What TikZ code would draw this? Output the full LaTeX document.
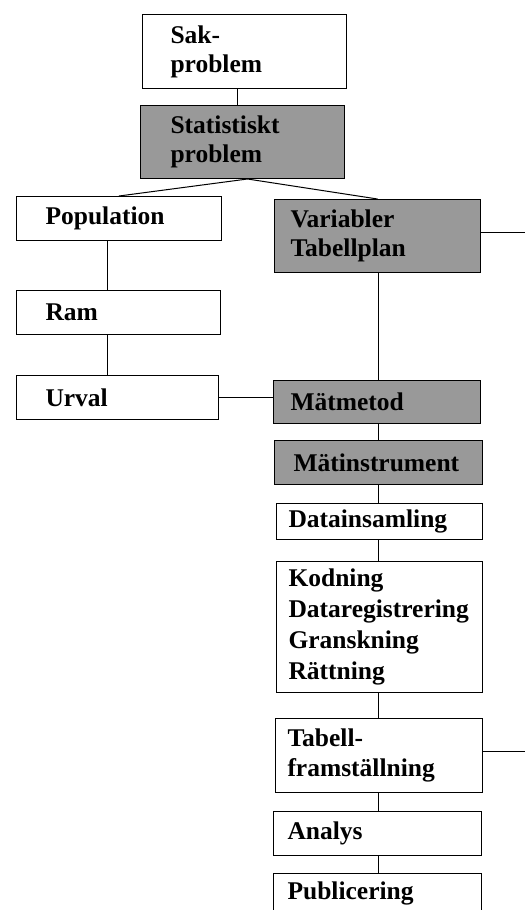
\documentclass[tikz,border=0pt]{standalone}
\usepackage{fontspec}
\setmainfont{Liberation Serif}
\usepackage{xcolor}

\begin{document}
\begin{tikzpicture}[x=1pt, y=1pt, line width=1pt,
  box/.style={draw, anchor=north west, align=left, inner ysep=0pt, font=\bfseries\fontsize{25.5}{29}\selectfont},
  plainbox/.style={box, fill=white},
  greybox/.style={box, fill=black!40}]
\useasboundingbox (0,0) rectangle (525,-910);
\clip (0,0) rectangle (525,-910);
\coordinate (topspine) at (237,0); \coordinate (lspine) at (107,0);
\coordinate (rspine) at (378,0);   \coordinate (redge) at (525,0);
% left column and top
\node[plainbox, minimum width=204pt, text width=148pt, inner xsep=28pt, minimum height=74pt] (sak) at (142,-14) {Sak-\\problem};
\node[greybox, minimum width=204pt, text width=144pt, inner xsep=30pt, minimum height=73pt] (stat) at (140,-105) {Statistiskt\\problem};
\node[plainbox, minimum width=205pt, text width=147pt, inner xsep=29pt, minimum height=44pt] (pop) at (16,-196) {Population};
\node[plainbox, minimum width=204pt, text width=146pt, inner xsep=29pt, minimum height=44pt] (ram) at (16,-290) {Ram};
\node[plainbox, minimum width=202pt, text width=144pt, inner xsep=29pt, minimum height=44pt] (urval) at (16,-375) {Urval};
% right column
\node[greybox, minimum width=206pt, text width=174pt, inner xsep=16pt, minimum height=73pt] (var) at (274,-199) {Variabler\\Tabellplan};
\node[greybox, minimum width=207pt, text width=173pt, inner xsep=17pt, minimum height=43pt] (matmet) at (273,-380) {Mätmetod};
\node[greybox, minimum width=208pt, text width=170pt, inner xsep=19pt, minimum height=44pt] (matins) at (274,-440) {Mätinstrument};
\node[plainbox, minimum width=206pt, text width=182pt, inner xsep=12pt, minimum height=36pt] (datains) at (276,-503) {Datainsamling};
\node[plainbox, minimum width=206pt, text width=182pt, inner xsep=12pt, minimum height=131pt, font=\bfseries\fontsize{25.5}{31}\selectfont] (kod) at (276,-561) {Kodning\\Dataregistrering\\Granskning\\Rättning};
\node[plainbox, minimum width=207pt, text width=183pt, inner xsep=12pt, minimum height=74pt, font=\bfseries\fontsize{25.5}{30}\selectfont] (tabell) at (275,-718) {Tabell-\\framställning};
\node[plainbox, minimum width=208pt, text width=180pt, inner xsep=14pt, minimum height=44pt] (analys) at (273,-811) {Analys};
\node[plainbox, minimum width=208pt, text width=180pt, inner xsep=14pt, inner ysep=8pt, text depth=30pt] (publ) at (273,-873) {Publicering};
% connectors
\draw (sak.south -| topspine) -- (stat.north -| topspine);
\draw ([xshift=5pt]stat.south) -- (pop.north);
\draw ([xshift=5pt]stat.south) -- (var.north);
\draw (pop.south -| lspine) -- (ram.north -| lspine);
\draw (ram.south -| lspine) -- (urval.north -| lspine);
\draw (urval.east) -- (matmet.west |- urval.east);
\foreach \a/\b in {var/matmet, matmet/matins, matins/datains, datains/kod, kod/tabell, tabell/analys, analys/publ}
  \draw (\a.south -| rspine) -- (\b.north -| rspine);
\draw ([yshift=4pt]var.east) -- ([yshift=4pt]var.east -| redge);
\draw ([yshift=4pt]tabell.east) -- ([yshift=4pt]tabell.east -| redge);
\end{tikzpicture}
\end{document}
